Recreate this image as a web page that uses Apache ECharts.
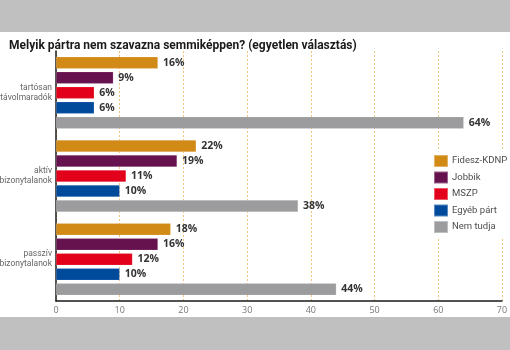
<!DOCTYPE html>
<html>
<head>
<meta charset="utf-8">
<script src="https://cdn.jsdelivr.net/npm/echarts@6/dist/echarts.min.js"></script>
<style>
  html, body { margin: 0; padding: 0; background: #c0c0c0; }
  #chart { position: absolute; left: 0; top: 32px; width: 510px; height: 285px; }
</style>
</head>
<body>
<div id="chart"></div>
<script>
const categories = ['tartósan\ntávolmaradók', 'aktív\nbizonytalanok', 'passzív\nbizonytalanok'];
const seriesNames = ['Fidesz-KDNP', 'Jobbik', 'MSZP', 'Egyéb párt', 'Nem tudja'];
const fidesz = [16, 22, 18];
const jobbik = [9, 19, 16];
const mszp = [6, 11, 12];
const egyeb = [6, 10, 10];
const nemTudja = [64, 38, 44];
const xTicks = [0, 10, 20, 30, 40, 50, 60, 70];

const colors = ['#d28a17', '#65124f', '#e2001a', '#004a9c', '#9c9c9e'];
const values = [fidesz, jobbik, mszp, egyeb, nemTudja];

const chart = echarts.init(document.getElementById('chart'));
chart.setOption({
  backgroundColor: '#ffffff',
  animation: false,
  title: {
    text: 'Melyik pártra nem szavazna semmiképpen? (egyetlen választás)',
    left: 4,
    top: 3,
    textStyle: { fontFamily: 'Roboto', fontSize: 12, fontWeight: 'bold', color: '#1a1a1a' },
  },
  legend: {
    orient: 'vertical',
    left: 431,
    top: 119,
    itemWidth: 14,
    itemHeight: 12,
    itemGap: 2.5,
    padding: [3, 4, 3, 2],
    backgroundColor: '#ffffff',
    icon: 'rect',
    data: seriesNames,
    textStyle: { fontFamily: 'Roboto', fontSize: 9.5, color: '#4d4d4d', padding: [0, 0, 0, -1] },
  },
  grid: { left: 56, right: 8, top: 19, bottom: 16, outerBoundsMode: 'none' },
  xAxis: {
    type: 'value',
    min: 0,
    max: 70,
    interval: 10,
    axisLine: { show: true, lineStyle: { color: '#1a1a1a', width: 1.5 } },
    axisTick: { show: false },
    axisLabel: {
      color: '#777777',
      fontFamily: 'Open Sans',
      fontSize: 9,
      margin: 5,
      formatter: (v) => (xTicks.includes(v) ? String(v) : ''),
    },
    splitLine: { show: true, lineStyle: { color: '#f2c27a', type: [2, 2], width: 1 } },
  },
  yAxis: {
    type: 'category',
    inverse: true,
    data: categories,
    axisLine: { show: true, lineStyle: { color: '#1a1a1a', width: 1.5 } },
    axisTick: { show: false },
    axisLabel: {
      color: '#666666',
      fontFamily: 'Roboto',
      fontSize: 8.5,
      lineHeight: 10,
      margin: 4,
      padding: [5, 0, 0, 0],
      align: 'right',
    },
  },
  series: seriesNames.map((name, i) => ({
    name,
    type: 'bar',
    data: values[i],
    barWidth: 12,
    barGap: '25%',
    itemStyle: { color: colors[i], borderColor: 'rgba(255,255,255,0.35)', borderWidth: 0.5 },
    label: {
      show: true,
      position: 'right',
      distance: 5,
      formatter: '{c}%',
      fontFamily: 'Open Sans',
      fontSize: 10.5,
      fontWeight: 'bold',
      color: '#333333',
    },
  })),
});
</script>
</body>
</html>
